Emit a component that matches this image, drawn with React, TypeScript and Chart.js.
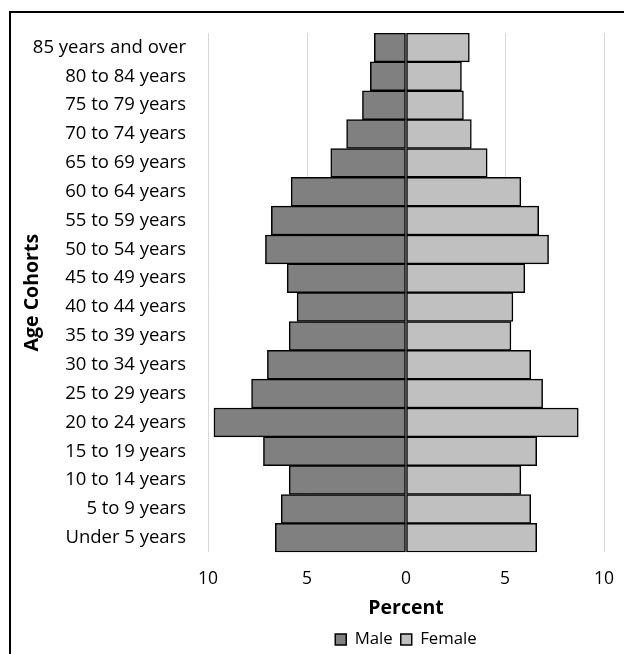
import React, { useEffect, useRef } from "react";
import { Chart, registerables } from "chart.js";

Chart.register(...registerables);

const categories = [
  "85 years and over",
  "80 to 84 years",
  "75 to 79 years",
  "70 to 74 years",
  "65 to 69 years",
  "60 to 64 years",
  "55 to 59 years",
  "50 to 54 years",
  "45 to 49 years",
  "40 to 44 years",
  "35 to 39 years",
  "30 to 34 years",
  "25 to 29 years",
  "20 to 24 years",
  "15 to 19 years",
  "10 to 14 years",
  "5 to 9 years",
  "Under 5 years",
];

const maleValues = [1.6, 1.8, 2.2, 3.0, 3.8, 5.8, 6.8, 7.1, 6.0, 5.5, 5.9, 7.0, 7.8, 9.7, 7.2, 5.9, 6.3, 6.6];
const femaleValues = [3.2, 2.8, 2.9, 3.3, 4.1, 5.8, 6.7, 7.2, 6.0, 5.4, 5.3, 6.3, 6.9, 8.7, 6.6, 5.8, 6.3, 6.6];

const xTicks = [-10, -5, 0, 5, 10];

const FONT = "'Open Sans'";

export default function App() {
  const canvasRef = useRef<HTMLCanvasElement | null>(null);

  useEffect(() => {
    document.body.style.margin = "0";
    const ctx = canvasRef.current!.getContext("2d")!;
    const chart = new Chart(ctx, {
      type: "bar",
      data: {
        labels: categories,
        datasets: [
          {
            label: "Male",
            data: maleValues.map((v) => -v),
            backgroundColor: "#808080",
            borderColor: "#000000",
            borderWidth: 1.5,
            borderSkipped: false,
            barPercentage: 1,
            categoryPercentage: 1,
          },
          {
            label: "Female",
            data: femaleValues,
            backgroundColor: "#c0c0c0",
            borderColor: "#000000",
            borderWidth: 1.5,
            borderSkipped: false,
            barPercentage: 1,
            categoryPercentage: 1,
          },
        ],
      },
      options: {
        indexAxis: "y",
        animation: false,
        responsive: false,
        maintainAspectRatio: false,
        layout: { padding: { left: 16, top: 33, right: 20, bottom: 0 } },
        scales: {
          x: {
            stacked: true,
            min: -10,
            max: 10,
            afterBuildTicks: (scale: any) => {
              scale.ticks = xTicks.map((v) => ({ value: v }));
            },
            afterFit: (scale: any) => {
              scale.height = 71;
            },
            ticks: {
              callback: (v: any) => String(Math.abs(Number(v))),
              color: "#000",
              font: { family: FONT, size: 17.5 },
              padding: 2,
              maxRotation: 0,
            },
            grid: {
              color: "#d9d9d9",
              lineWidth: 1,
              drawTicks: true,
              tickLength: 14,
              tickColor: "rgba(0,0,0,0)",
            },
            border: { display: false },
            title: {
              display: true,
              text: "Percent",
              color: "#000",
              font: { family: FONT, size: 19.5, weight: "bold" },
              padding: { top: 0, bottom: 3 },
            },
          },
          y: {
            stacked: true,
            afterFit: (scale: any) => {
              scale.width = 208 - 16;
            },
            ticks: {
              color: "#000",
              font: { family: FONT, size: 18.5 },
              padding: 22,
              autoSkip: false,
            },
            grid: { display: false, drawTicks: false },
            border: { display: false },
            title: {
              display: true,
              text: "Age Cohorts",
              color: "#000",
              font: { family: FONT, size: 19.5, weight: "bold" },
              padding: { top: 5, bottom: 0 },
            },
          },
        },
        plugins: {
          legend: {
            position: "bottom",
            fullSize: false,
            labels: {
              color: "#000",
              font: { family: FONT, size: 16.8 },
              boxWidth: 11,
              boxHeight: 11,
              padding: 8,
            },
          },
          tooltip: { enabled: true },
        },
      } as any,
    });
    return () => chart.destroy();
  }, []);

  return (
    <div style={{ position: "absolute", left: 0, top: 0, width: 624, height: 654, overflow: "hidden", background: "#fff" }}>
      <canvas ref={canvasRef} width={624} height={658} style={{ position: "absolute", left: 0, top: 0 }} />
      <div
        style={{
          position: "absolute",
          left: 9,
          top: 11,
          width: 700,
          height: 700,
          border: "2px solid #000",
          pointerEvents: "none",
        }}
      />
    </div>
  );
}
